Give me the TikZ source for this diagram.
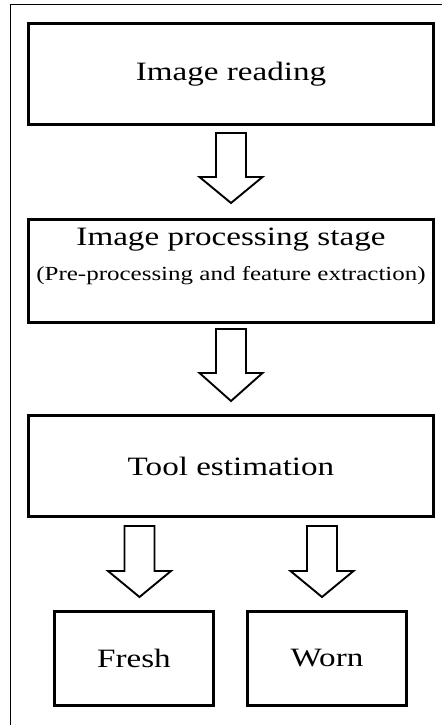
\documentclass[tikz,border=0pt]{standalone}
\usepackage{fontspec}
\setmainfont{Liberation Serif}[FakeStretch=1.25]
\begin{document}
\begin{tikzpicture}[x=1pt,y=-1pt,
  box/.style={draw,line width=2.6pt,rectangle,inner sep=0pt,align=center},
  bigtxt/.style={font=\fontsize{26.5}{35}\selectfont},
  barrow/.style={draw,line width=1.9pt,fill=white,line join=miter}]
\useasboundingbox (0,0) rectangle (442,725);
% outer frame (cropped)
\draw[line width=1pt] (10,725) -- (10,5) -- (442,5);
% boxes
\node[box,bigtxt,minimum width=405pt,minimum height=101pt] (b1) at (231,74) {Image reading};
\node[box,minimum width=405pt,minimum height=103pt] (b2) at (231,271) {};
\node[bigtxt,align=center,inner sep=0pt] (b2t) at (231,256)
  {Image processing stage\\{\fontsize{20}{35}\selectfont (Pre-processing and feature extraction)}};
\node[box,bigtxt,minimum width=405pt,minimum height=101pt] (b3) at (231,466) {Tool estimation};
\node[box,bigtxt,minimum width=159pt,minimum height=94pt] (fresh) at (134,658.5) {Fresh};
\node[box,bigtxt,minimum width=159pt,minimum height=94pt] (worn) at (327,658.5) {Worn};
% block arrows: centre x, shaft top, wing y, tip y
\newcommand\blockarrow[4]{%
  \draw[barrow] (#1-15,#2) -- (#1+15,#2) -- (#1+15,#3) -- (#1+31.5,#3) -- (#1,#4)
    -- (#1-31.5,#3) -- (#1-15,#3) -- cycle;}
\blockarrow{231}{133}{177}{203}
\blockarrow{231}{329}{373}{401}
\blockarrow{139.5}{526}{571}{597}
\blockarrow{322}{526}{571}{597}
\end{tikzpicture}
\end{document}
